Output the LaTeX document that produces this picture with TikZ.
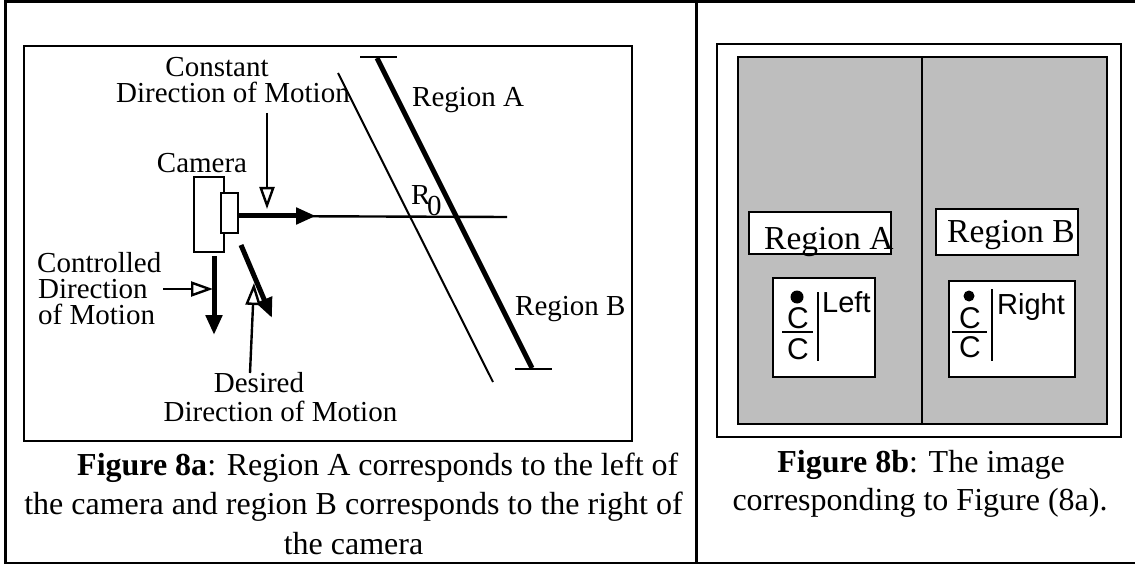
\documentclass[tikz,border=0pt]{standalone}
\usepackage{fontspec}
\setmainfont{Liberation Serif}
\setsansfont{Liberation Sans}
\usetikzlibrary{arrows.meta, positioning}
\tikzset{
    frameline/.style={line width=2.4pt, black},
    label/.style={inner sep=0pt, anchor=base, font=\fontsize{29}{32}\selectfont},
    caption/.style={inner sep=0pt, anchor=base, font=\fontsize{32}{36}\selectfont},
    boxlabel/.style={inner sep=0pt, anchor=base west, font=\fontsize{33.5}{36}\selectfont},
    sanslabel/.style={inner sep=0pt, anchor=base west, font=\sffamily\fontsize{29}{32}\selectfont},
    sanssym/.style={inner sep=0pt, anchor=base, font=\sffamily\fontsize{30}{32}\selectfont},
    thickarrow/.style={line width=5pt, -{Triangle[length=20pt, width=16pt]}},
    openarrow/.style={line width=2.4pt, -{Triangle[open, fill=white, length=22pt, width=15pt]}}
}
\definecolor{imagegray}{RGB}{190, 190, 190}
\begin{document}
\begin{tikzpicture}[x=1pt, y=-1pt]
        \useasboundingbox (0, 0) rectangle (1135, 564);

        % Outer table
        \draw[line width=3pt] (1135, 1.5) -- (5.5, 1.5) -- (5.5, 563) -- (1135, 563);
        \draw[line width=3pt] (696.5, 1.5) -- (696.5, 563);

        % Left panel
        \draw[frameline] (24, 46) rectangle (632, 441);

        % Camera
        \draw[frameline] (194, 177) rectangle (224, 252);
        \draw[frameline, fill=white] (221, 193) rectangle (238, 233);
        \node[label] (camlabel) at (202, 173) {Camera};

        % Ray and regions
        \coordinate (lensout) at (238, 216);
        \coordinate (rayhead) at (316, 216);
        \coordinate (rayend) at (507, 217);
        \coordinate (thinup) at (338, 73);
        \coordinate (thindown) at (493, 382);
        \coordinate (regionup) at (377, 58);
        \coordinate (regiondown) at (532, 368);
        \draw[frameline] (lensout) -- (rayend);
        \draw[thickarrow] (lensout) -- (rayhead);
        \draw[line width=2pt] (thinup) -- (thindown);
        \draw[line width=5pt] (regionup) -- (regiondown);
        \draw[frameline] (360, 57) -- (397, 57);
        \draw[frameline] (515, 369) -- (552, 369);

        % Labels on the left
        \node[label] (constantlabel) at (217, 77) {Constant};
        \node[label] (directionlabel) at (233, 103) {Direction of Motion};
        \node[label, anchor=base west] (regionalabel) at (412, 107) {Region A};
        \node[label, anchor=base west] (regionblabel) at (515, 315) {Region B};
        \node[label, anchor=base west] (rlabel) at (411, 205) {R};
        \node[label, anchor=base west] (zerolabel) at (427, 215) {0};
        \node[label, anchor=base west] (controlledlabel) at (37, 272) {Controlled};
        \node[label, anchor=base west] (directionctl) at (38, 298) {Direction};
        \node[label, anchor=base west] (motionctl) at (38, 324) {of Motion};
        \node[label] (desiredlabel) at (259, 392) {Desired};
        \node[label] (directiondes) at (280.5, 421) {Direction of Motion};

        % Motion arrows
        \coordinate (constanttop) at (267, 113);
        \coordinate (constanthead) at (267, 209);
        \draw[openarrow] (constanttop) -- (constanthead);
        \coordinate (controltop) at (214, 256);
        \coordinate (controlhead) at (214, 335);
        \draw[thickarrow] (controltop) -- (controlhead);
        \coordinate (controlleft) at (163, 289);
        \coordinate (controlright) at (213, 289);
        \draw[openarrow] (controlleft) -- (controlright);
        \coordinate (desiredtop) at (241, 245);
        \coordinate (desiredhead) at (272, 318);
        \draw[thickarrow] (desiredtop) -- (desiredhead);
        \coordinate (desiredlow) at (250, 373);
        \coordinate (desiredup) at (254, 283);
        \draw[openarrow] (desiredlow) -- (desiredup);

        % Caption of the left panel
        \node[caption, anchor=base west] (capa) at (77, 475) {\textbf{Figure 8a}: Region A corresponds to the left of};
        \node[caption] (capb) at (353.5, 514) {the camera and region B corresponds to the right of};
        \node[caption] (capc) at (353.5, 554) {the camera};

        % Right panel
        \draw[frameline] (717, 44) rectangle (1121, 437);
        \draw[line width=2.6pt, fill=imagegray] (738, 57) rectangle (1107, 424);
        \draw[frameline] (922, 57) -- (922, 424);

        % Region A side
        \draw[frameline, fill=white] (749, 212) rectangle (891, 254);
        \node[boxlabel] (regionaname) at (764, 249) {Region A};
        \draw[frameline, fill=white] (773, 278) rectangle (875, 377);
        \fill (797, 297) circle (6.5);
        \node[sanssym] (cdotleft) at (798, 328) {C};
        \draw[frameline] (782, 332) -- (813, 332);
        \node[sanssym] (cleft) at (798, 359) {C};
        \draw[frameline] (818, 292) -- (818, 361);
        \node[sanslabel] (leftname) at (822, 312) {Left};

        % Region B side
        \draw[frameline, fill=white] (936, 209) rectangle (1078, 255);
        \node[boxlabel] (regionbname) at (947, 242) {Region B};
        \draw[frameline, fill=white] (949, 281) rectangle (1075, 377);
        \fill (969, 296) circle (5.5);
        \node[sanssym] (cdotright) at (970, 328) {C};
        \draw[frameline] (952, 332) -- (987, 332);
        \node[sanssym] (cright) at (970, 357) {C};
        \draw[frameline] (992, 289) -- (992, 361);
        \node[sanslabel] (rightname) at (997, 314) {Right};

        % Caption of the right panel
        \node[caption] (caprighta) at (921, 472) {\textbf{Figure 8b}: The image};
        \node[caption] (caprightb) at (920, 510) {corresponding to Figure (8a).};
    \end{tikzpicture}
\end{document}
